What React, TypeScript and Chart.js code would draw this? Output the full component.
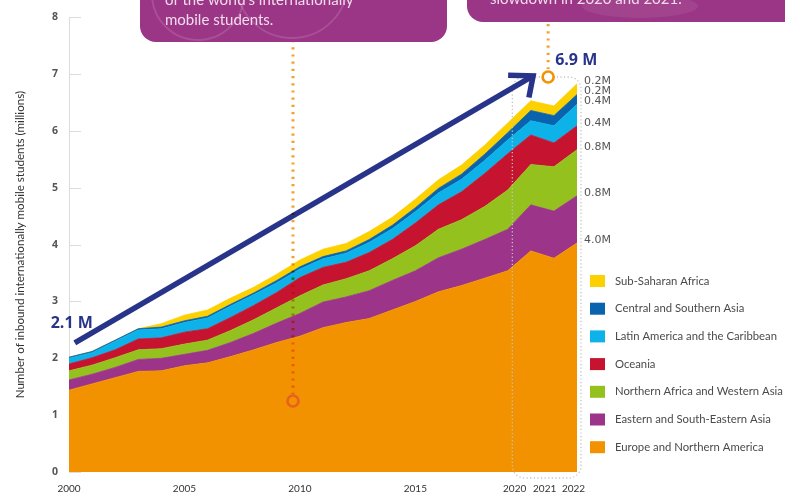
import React, { useEffect, useRef } from 'react';
import { Chart, registerables } from 'chart.js';

Chart.register(...registerables);

// ---------------- DATA ----------------
const years = [2000, 2001, 2002, 2003, 2004, 2005, 2006, 2007, 2008, 2009, 2010, 2011, 2012, 2013, 2014, 2015, 2016, 2017, 2018, 2019, 2020, 2021, 2022];

const europeNorthAmerica = [1.44, 1.55, 1.66, 1.77, 1.78, 1.87, 1.92, 2.03, 2.15, 2.28, 2.39, 2.54, 2.63, 2.70, 2.85, 3.00, 3.17, 3.28, 3.41, 3.54, 3.89, 3.76, 4.03];
const eastSouthEastAsia = [0.18, 0.17, 0.18, 0.21, 0.22, 0.20, 0.22, 0.25, 0.29, 0.34, 0.40, 0.45, 0.45, 0.49, 0.52, 0.54, 0.60, 0.64, 0.68, 0.73, 0.81, 0.83, 0.83];
const northAfricaWestAsia = [0.16, 0.16, 0.17, 0.17, 0.17, 0.18, 0.18, 0.21, 0.24, 0.27, 0.31, 0.30, 0.32, 0.35, 0.38, 0.44, 0.50, 0.52, 0.58, 0.69, 0.71, 0.78, 0.81];
const oceania = [0.12, 0.13, 0.14, 0.19, 0.19, 0.21, 0.20, 0.23, 0.25, 0.27, 0.32, 0.31, 0.29, 0.32, 0.34, 0.40, 0.43, 0.49, 0.58, 0.64, 0.52, 0.42, 0.42];
const latinAmericaCaribbean = [0.10, 0.09, 0.15, 0.16, 0.16, 0.17, 0.19, 0.20, 0.19, 0.17, 0.15, 0.15, 0.16, 0.18, 0.19, 0.20, 0.21, 0.22, 0.23, 0.24, 0.25, 0.30, 0.38];
const centralSouthernAsia = [0.02, 0.02, 0.02, 0.02, 0.03, 0.03, 0.03, 0.03, 0.03, 0.04, 0.04, 0.04, 0.04, 0.05, 0.06, 0.07, 0.08, 0.09, 0.11, 0.13, 0.18, 0.18, 0.17];
const subSaharanAfrica = [0, 0, 0, 0, 0.06, 0.10, 0.11, 0.11, 0.10, 0.11, 0.12, 0.13, 0.13, 0.14, 0.14, 0.15, 0.15, 0.16, 0.16, 0.17, 0.17, 0.17, 0.19];

const seriesLabels = [
  'Europe and Northern America',
  'Eastern and South-Eastern Asia',
  'Northern Africa and Western Asia',
  'Oceania',
  'Latin America and the Caribbean',
  'Central and Southern Asia',
  'Sub-Saharan Africa',
];
const seriesColors = ['#f39200', '#9c3589', '#95c11f', '#c6132f', '#0db3e8', '#0a63ad', '#fdd000'];
const endLabels = ['4.0M', '0.8M', '0.8M', '0.4M', '0.4M', '0.2M', '0.2M'];

const xTickYears = [2000, 2005, 2010, 2015, 2020, 2021, 2022];
const xTickLabels = ['2000', '2005', '2010', '2015', '2020', '2021', '2022'];

const yAxisTitle = 'Number of inbound internationally mobile students (millions)';
const startLabel = '2.1 M';
const peakLabel = '6.9 M';
const arrowFrom = { year: 2000.25, value: 2.27 };
const arrowTo = { year: 2020.1, value: 6.97 };
const peakMarker = { year: 2020.75, value: 6.95 };
const midMarker = { year: 2009.7, value: 1.25 };
const bracketFromYear = 2019.2;

const calloutLeft = ["of the world's internationally", 'mobile students.'];
const calloutRight = ['slowdown in 2020 and 2021.'];

// ---------------- CHART ----------------
const allSeries = [europeNorthAmerica, eastSouthEastAsia, northAfricaWestAsia, oceania, latinAmericaCaribbean, centralSouthernAsia, subSaharanAfrica];

const labelNudge: Record<number, number> = { 2020: -0.7, 2021: -0.4, 2022: -0.15 };

function roundRectPath(ctx: CanvasRenderingContext2D, x: number, y: number, w: number, h: number, r: number) {
  ctx.beginPath();
  ctx.moveTo(x + r, y);
  ctx.lineTo(x + w - r, y);
  ctx.arcTo(x + w, y, x + w, y + r, r);
  ctx.lineTo(x + w, y + h - r);
  ctx.arcTo(x + w, y + h, x + w - r, y + h, r);
  ctx.lineTo(x + r, y + h);
  ctx.arcTo(x, y + h, x, y + h - r, r);
  ctx.lineTo(x, y + r);
  ctx.arcTo(x, y, x + r, y, r);
  ctx.closePath();
}

const overlayPlugin = {
  id: 'overlay',
  beforeDatasetsDraw(chart: any) {
    const { ctx, chartArea, scales } = chart;
    const y = scales.y;
    ctx.save();
    ctx.strokeStyle = '#dcdcdc';
    ctx.lineWidth = 1;
    y.ticks.forEach((t: any) => {
      const py = Math.round(y.getPixelForValue(t.value)) + 0.5;
      ctx.beginPath();
      ctx.moveTo(chartArea.left, py);
      ctx.lineTo(chartArea.left + 12, py);
      ctx.stroke();
    });
    ctx.restore();
  },
  afterDraw(chart: any) {
    const { ctx, chartArea, scales } = chart;
    const x = scales.x;
    const y = scales.y;
    const last = years.length - 1;

    // dotted bracket around 2020-2022
    const peakX = x.getPixelForValue(peakMarker.year);
    const peakY = y.getPixelForValue(peakMarker.value);
    const bl = x.getPixelForValue(bracketFromYear);
    ctx.save();
    ctx.strokeStyle = '#c2c2c2';
    ctx.lineWidth = 1.3;
    ctx.setLineDash([1.2, 2.4]);
    roundRectPath(ctx, bl, peakY, chartArea.right + 4 - bl, chartArea.bottom + 6 - peakY, 12);
    ctx.stroke();
    ctx.restore();

    // arrow
    const ax1 = x.getPixelForValue(arrowFrom.year);
    const ay1 = y.getPixelForValue(arrowFrom.value);
    const ax2 = x.getPixelForValue(arrowTo.year);
    const ay2 = y.getPixelForValue(arrowTo.value);
    const ang = Math.atan2(ay2 - ay1, ax2 - ax1);
    const back = ang + Math.PI;
    ctx.save();
    ctx.strokeStyle = '#28348a';
    ctx.lineWidth = 5.5;
    ctx.lineCap = 'butt';
    ctx.beginPath();
    ctx.moveTo(ax1, ay1);
    ctx.lineTo(ax2 - 3 * Math.cos(ang), ay2 - 3 * Math.sin(ang));
    ctx.stroke();
    ctx.lineJoin = 'miter';
    ctx.beginPath();
    ctx.moveTo(ax2 + 25 * Math.cos(back + 0.55), ay2 + 25 * Math.sin(back + 0.55));
    ctx.lineTo(ax2, ay2);
    ctx.lineTo(ax2 + 22 * Math.cos(back - 0.85), ay2 + 22 * Math.sin(back - 0.85));
    ctx.stroke();
    ctx.fillStyle = '#28348a';
    ctx.font = 'bold 16px "Open Sans"';
    ctx.textBaseline = 'middle';
    ctx.textAlign = 'right';
    ctx.fillText(startLabel, ax1 + 18, ay1 - 20);
    ctx.textAlign = 'left';
    ctx.fillText(peakLabel, peakX + 7, peakY - 17);
    ctx.restore();

    // orange dotted leader lines (multiply)
    const mx = x.getPixelForValue(midMarker.year);
    const my = y.getPixelForValue(midMarker.value);
    ctx.save();
    ctx.globalCompositeOperation = 'multiply';
    ctx.strokeStyle = '#f5a030';
    ctx.lineWidth = 3;
    ctx.setLineDash([2.2, 5]);
    ctx.beginPath();
    ctx.moveTo(mx, 40);
    ctx.lineTo(mx, my - 7);
    ctx.stroke();
    ctx.beginPath();
    ctx.moveTo(peakX, 24);
    ctx.lineTo(peakX, peakY - 8);
    ctx.stroke();
    ctx.restore();

    ctx.save();
    ctx.lineWidth = 2.6;
    ctx.strokeStyle = '#e8611f';
    ctx.beginPath();
    ctx.arc(mx, my, 5.5, 0, Math.PI * 2);
    ctx.stroke();
    ctx.strokeStyle = '#f39200';
    ctx.fillStyle = '#ffffff';
    ctx.beginPath();
    ctx.arc(peakX, peakY, 5.5, 0, Math.PI * 2);
    ctx.fill();
    ctx.stroke();
    ctx.restore();

    // callout boxes
    const boxColor = '#9b3586';
    ctx.save();
    roundRectPath(ctx, 140, -40, 307, 82, 16);
    ctx.fillStyle = boxColor;
    ctx.fill();
    ctx.clip();
    ctx.strokeStyle = 'rgba(255,255,255,0.13)';
    ctx.lineWidth = 2;
    ctx.beginPath();
    ctx.arc(198, -6, 46, 0, Math.PI * 2);
    ctx.stroke();
    ctx.beginPath();
    ctx.arc(292, -18, 56, 0, Math.PI * 2);
    ctx.stroke();
    ctx.restore();

    ctx.save();
    roundRectPath(ctx, 467, -40, 360, 62, 16);
    ctx.fillStyle = boxColor;
    ctx.fill();
    ctx.clip();
    ctx.fillStyle = 'rgba(255,255,255,0.07)';
    ctx.beginPath();
    ctx.ellipse(640, 6, 58, 12, 0, 0, Math.PI * 2);
    ctx.fill();
    ctx.restore();

    ctx.save();
    ctx.fillStyle = '#f2dcec';
    ctx.font = '15px Lato';
    ctx.textAlign = 'left';
    ctx.textBaseline = 'alphabetic';
    ctx.fillText(calloutLeft[0], 165, 5);
    ctx.fillText(calloutLeft[1], 165, 25);
    ctx.fillText(calloutRight[0], 490, 4);
    ctx.restore();

    // end labels at 2022
    ctx.save();
    ctx.fillStyle = '#555';
    ctx.font = '11px "DejaVu Sans"';
    ctx.textAlign = 'left';
    ctx.textBaseline = 'middle';
    let cum = 0;
    allSeries.forEach((s, i) => {
      cum += s[last];
      const py = y.getPixelForValue(cum) - 3;
      ctx.fillText(endLabels[i], chartArea.right + 7, py);
    });
    ctx.restore();

    // legend
    ctx.save();
    ctx.font = '11.3px Lato';
    ctx.textBaseline = 'middle';
    ctx.textAlign = 'left';
    const lx = chartArea.right + 13;
    const ds = chart.data.datasets;
    for (let k = 0; k < ds.length; k++) {
      const d = ds[ds.length - 1 - k];
      const cy = 281 + k * 27.7;
      ctx.fillStyle = d.backgroundColor;
      ctx.fillRect(lx, cy - 6, 15, 12);
      ctx.fillStyle = '#4a4a4a';
      ctx.fillText(d.label, lx + 25, cy);
    }
    ctx.restore();
  },
};

export default function App() {
  const ref = useRef<HTMLCanvasElement>(null);
  useEffect(() => {
    Chart.defaults.font.family = 'Lato';
    const datasets = allSeries.map((s, i) => ({
      label: seriesLabels[i],
      data: years.map((yr, j) => ({ x: yr, y: s[j] })),
      backgroundColor: seriesColors[i],
      borderColor: seriesColors[i],
      borderWidth: 0.8,
      fill: i === 0 ? 'origin' : '-1',
      pointRadius: 0,
      tension: 0,
    }));
    const chart = new Chart(ref.current as HTMLCanvasElement, {
      type: 'line',
      data: { datasets } as any,
      options: {
        responsive: false,
        animation: false,
        layout: { padding: { top: 12, right: 208, left: 0, bottom: 0 } },
        plugins: { legend: { display: false }, tooltip: { enabled: false } },
        scales: {
          x: {
            type: 'linear',
            min: 2000,
            max: 2022,
            grid: { display: false, drawTicks: false },
            border: { display: false },
            afterBuildTicks: (s: any) => {
              s.ticks = xTickYears.map((v) => ({ value: v + (labelNudge[v] || 0) }));
            },
            afterFit: (s: any) => {
              s.height = 23;
            },
            ticks: {
              autoSkip: false,
              maxRotation: 0,
              padding: 11,
              color: '#333',
              font: { family: 'Lato', size: 10 },
              callback: (_v: any, i: number) => xTickLabels[i],
            },
          },
          y: {
            stacked: true,
            min: 0,
            max: 8,
            grid: { display: false, drawTicks: false },
            border: { display: true, color: '#dcdcdc' },
            afterFit: (s: any) => {
              s.width = 69;
            },
            ticks: {
              stepSize: 1,
              padding: 11,
              color: '#555',
              font: { family: 'Open Sans', size: 10.5, weight: 'bold' },
            },
            title: {
              display: true,
              text: yAxisTitle,
              color: '#333',
              font: { family: 'Lato', size: 11.6 },
              padding: { top: 13, bottom: 0 },
            },
          },
        },
      } as any,
      plugins: [overlayPlugin],
    });
    return () => chart.destroy();
  }, []);
  return (
    <div style={{ position: 'fixed', left: 0, top: 0, width: 785, height: 495, background: '#fff' }}>
      <canvas ref={ref} width={785} height={495} style={{ display: 'block' }} />
    </div>
  );
}
